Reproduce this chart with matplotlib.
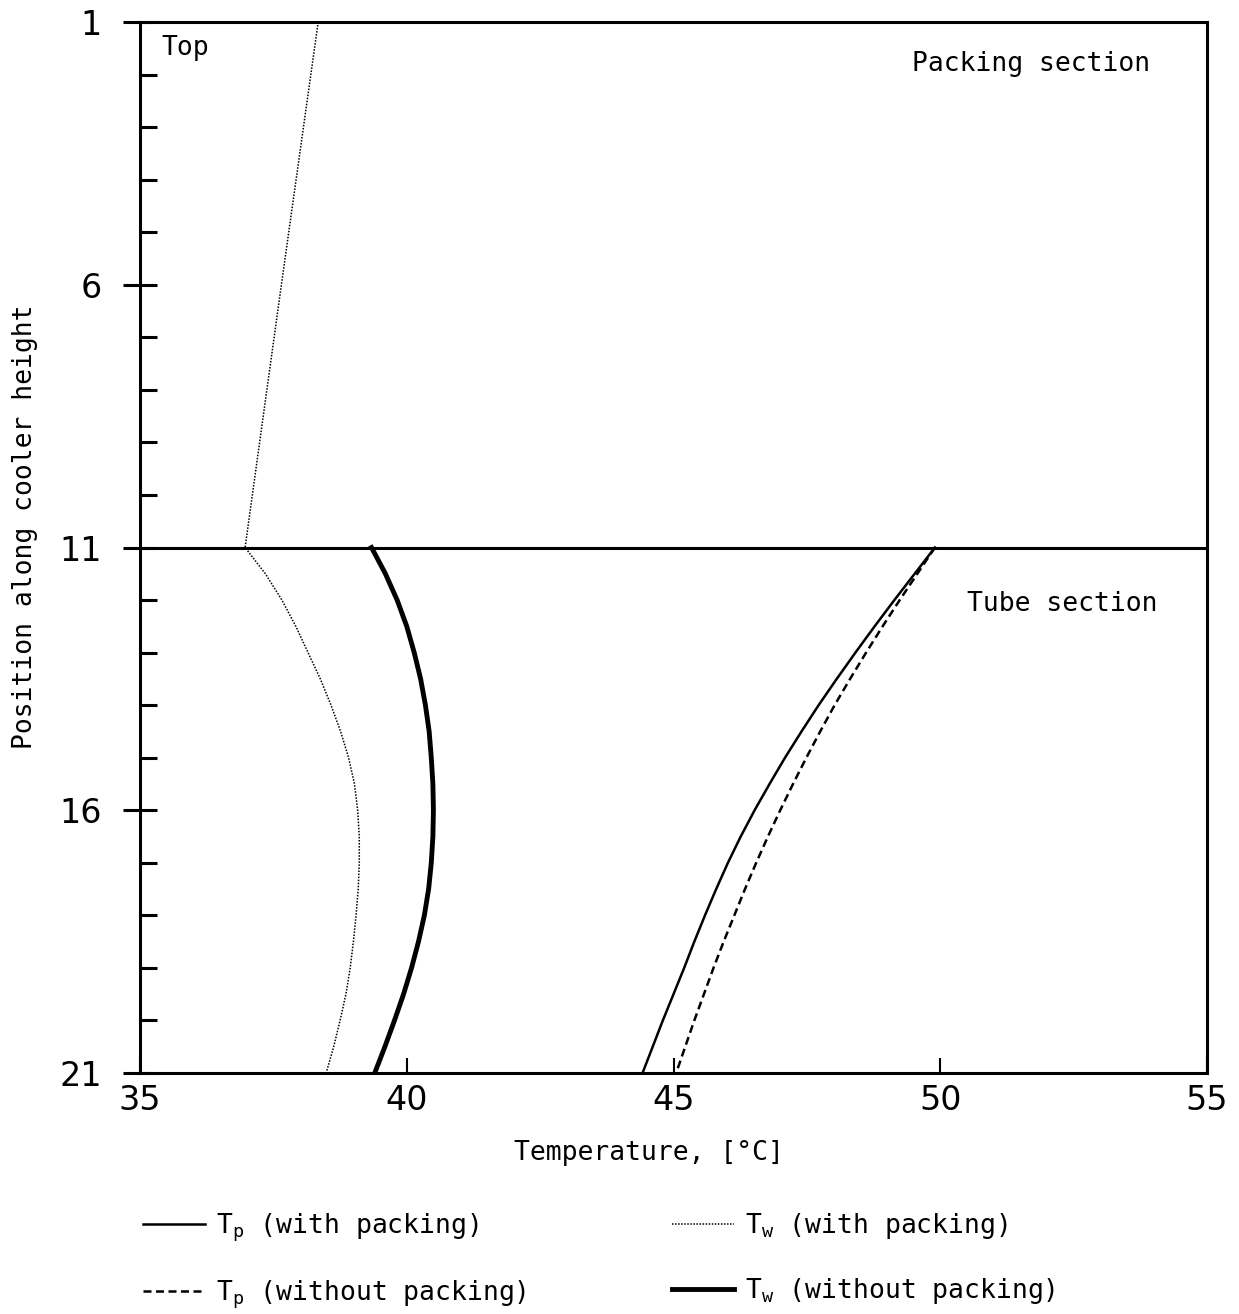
import numpy as np
import matplotlib
matplotlib.use("Agg")
import matplotlib.pyplot as plt
from matplotlib.ticker import MultipleLocator

plt.rcParams['mathtext.fontset'] = 'custom'
plt.rcParams['mathtext.rm'] = 'DejaVu Sans Mono'
plt.rcParams['mathtext.it'] = 'DejaVu Sans Mono'

# positions along the cooler height (1 = top, 21 = bottom)
pos_tube = [11, 11.5, 12, 12.5, 13, 13.5, 14, 14.5, 15, 15.5, 16,
            16.5, 17, 17.5, 18, 18.5, 19, 19.5, 20, 20.5, 21]

# water temperature with packing: packing section, then tube section
pos_tw_pack_top = [1, 6, 11]
tw_pack_top = [38.34, 37.65, 36.97]
tw_pack = [36.97, 37.35, 37.66, 37.92, 38.15, 38.38, 38.58, 38.76, 38.91, 39.02, 39.08,
           39.11, 39.11, 39.09, 39.05, 39.00, 38.94, 38.86, 38.75, 38.63, 38.49]

tw_nopack = [39.34, 39.60, 39.82, 40.00, 40.14, 40.26, 40.35, 40.42, 40.46, 40.49, 40.50,
             40.49, 40.46, 40.41, 40.33, 40.22, 40.09, 39.94, 39.77, 39.59, 39.40]

tp_pack = [49.90, 49.52, 49.14, 48.77, 48.41, 48.06, 47.72, 47.40, 47.09, 46.80, 46.52,
           46.26, 46.02, 45.80, 45.59, 45.39, 45.20, 45.00, 44.80, 44.61, 44.42]

tp_nopack = [49.90, 49.57, 49.24, 48.92, 48.61, 48.31, 48.02, 47.75, 47.49, 47.24, 47.00,
             46.77, 46.55, 46.34, 46.14, 45.94, 45.75, 45.57, 45.39, 45.22, 45.05]

xticks = [35, 40, 45, 50, 55]
yticks = [1, 6, 11, 16, 21]

mono = 'DejaVu Sans Mono'

fig = plt.figure(figsize=(12.39, 13.14), dpi=100)
ax = fig.add_axes([140/1239, 1-1073/1314, 1067/1239, 1051/1314])

l1, = ax.plot(tp_pack, pos_tube, color='black', lw=1.8,
              label=r'T$_\mathrm{p}$ (with packing)')
l2, = ax.plot(tp_nopack, pos_tube, color='black', lw=1.8, linestyle=(0, (3.2, 1.8)),
              label=r'T$_\mathrm{p}$ (without packing)')
l3, = ax.plot(tw_pack_top + tw_pack[1:], pos_tw_pack_top + pos_tube[1:], color='black',
              lw=1.1, linestyle=(0, (1, 1)), label=r'T$_\mathrm{w}$ (with packing)')
l4, = ax.plot(tw_nopack, pos_tube, color='black', lw=3.5,
              label=r'T$_\mathrm{w}$ (without packing)')

# boundary between packing and tube sections
ax.axhline(11, color='black', lw=2.2)

ax.set_xlim(35, 55)
ax.set_ylim(21, 1)
ax.set_xticks(xticks)
ax.set_yticks(yticks)
ax.yaxis.set_minor_locator(MultipleLocator(1))
for s in ax.spines.values():
    s.set_linewidth(2.2)
ax.tick_params(axis='y', which='major', direction='inout', length=25, width=2.2,
               pad=15, labelsize=24)
ax.tick_params(axis='y', which='minor', direction='in', length=12, width=2.2)
ax.tick_params(axis='x', which='major', direction='in', length=11, width=1.5,
               pad=8, labelsize=24)

ax.set_xlabel('Temperature, [°C]', family=mono, fontsize=19)
ax.xaxis.set_label_coords(0.477, -0.064)
ax.set_ylabel('Position along cooler height', family=mono, fontsize=19)
ax.yaxis.set_label_coords(-0.096, 0.52)

ax.text(35.41, 1.25, 'Top', family=mono, fontsize=19, va='top', ha='left')
ax.text(49.47, 1.8, 'Packing section', family=mono, fontsize=19, va='center', ha='left')
ax.text(50.5, 12.08, 'Tube section', family=mono, fontsize=19, va='center', ha='left')

fig.legend(handles=[l1, l2, l3, l4], ncol=2, loc='center left',
           bbox_to_anchor=(143/1239, 1-1261/1314), frameon=False,
           prop={'family': mono, 'size': 19}, handlelength=2.35, handletextpad=0.4,
           columnspacing=5.55, labelspacing=1.3, borderpad=0, borderaxespad=0)

fig.savefig('out.png', dpi=100)
